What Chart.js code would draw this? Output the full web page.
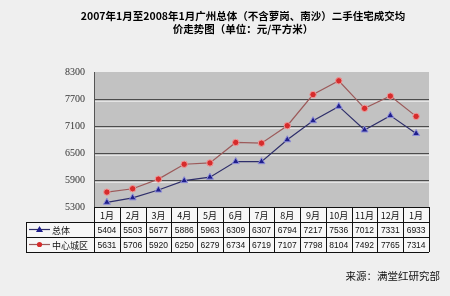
<!DOCTYPE html>
<html>
<head>
<meta charset="utf-8">
<title>广州二手住宅成交均价走势</title>
<script src="https://cdn.jsdelivr.net/npm/chart.js"></script>
<style>
  body { margin: 0; background: #efefef; }
  #wrap { width: 450px; height: 296px; position: relative; }
</style>
</head>
<body>
<div id="wrap"><canvas id="myCanvas"></canvas></div>
<script>
// data
var months = ['1月','2月','3月','4月','5月','6月','7月','8月','9月','10月','11月','12月','1月'];
var total = [5404, 5503, 5677, 5886, 5963, 6309, 6307, 6794, 7217, 7536, 7012, 7331, 6933];
var center = [5631, 5706, 5920, 6250, 6279, 6734, 6719, 7107, 7798, 8104, 7492, 7765, 7314];
var yTicks = [5300, 5900, 6500, 7100, 7700, 8300];
var seriesNames = ['总体', '中心城区'];
var titleLines = ['2007年1月至2008年1月广州总体（不含萝岗、南沙）二手住宅成交均', '价走势图（单位：元/平方米）'];
var sourceText = '来源：满堂红研究部';

var cjk = '"Noto Sans CJK SC", sans-serif';

// background, plot fill and grid highlight lines
var backPlugin = {
  id: 'back',
  beforeDraw: function(chart) {
    var c = chart.ctx, a = chart.chartArea;
    c.save();
    c.fillStyle = '#efefef';
    c.fillRect(0, 0, chart.width, chart.height);
    c.fillStyle = '#c2c2c2';
    c.fillRect(a.left, a.top, a.right - a.left, a.bottom - a.top);
    c.restore();
  },
  beforeDatasetsDraw: function(chart) {
    var c = chart.ctx, a = chart.chartArea, y = chart.scales.y;
    c.save();
    c.strokeStyle = '#e4e4e4';
    c.lineWidth = 1;
    yTicks.slice(1, -1).forEach(function(v) {
      var py = Math.round(y.getPixelForValue(v)) + 2.5;
      c.beginPath();
      c.moveTo(a.left + 1, py);
      c.lineTo(a.right, py);
      c.stroke();
    });
    c.restore();
  }
};

// title, data table with legend keys, source note
var tablePlugin = {
  id: 'table',
  afterDraw: function(chart) {
    var c = chart.ctx, x = chart.scales.x, a = chart.chartArea;
    var colW = (a.right - a.left) / months.length;
    var rowTop = [a.bottom, 222, 237, 252];
    var legendLeft = 26;
    c.save();

    c.fillStyle = '#000';
    c.textAlign = 'center';
    c.textBaseline = 'middle';
    c.font = 'bold 10.5px ' + cjk;
    c.fillText(titleLines[0], 243, 16);
    c.fillText(titleLines[1], 243, 29);

    // cells
    c.fillStyle = '#f7f7f7';
    c.fillRect(a.left, rowTop[0], a.right - a.left, rowTop[1] - rowTop[0]);
    c.fillRect(legendLeft, rowTop[1], a.right - legendLeft, rowTop[3] - rowTop[1]);

    c.strokeStyle = '#111';
    c.lineWidth = 1;
    c.beginPath();
    c.moveTo(a.left, rowTop[0] + 0.5); c.lineTo(a.right, rowTop[0] + 0.5);
    for (var r = 1; r < 4; r++) {
      c.moveTo(legendLeft, rowTop[r] + 0.5); c.lineTo(a.right, rowTop[r] + 0.5);
    }
    c.moveTo(legendLeft + 0.5, rowTop[1]); c.lineTo(legendLeft + 0.5, rowTop[3]);
    for (var i = 0; i <= months.length; i++) {
      var px = Math.round(a.left + i * colW) + 0.5;
      c.moveTo(px, rowTop[0]); c.lineTo(px, rowTop[3]);
    }
    c.stroke();

    // months
    c.fillStyle = '#111';
    c.font = '9px ' + cjk;
    months.forEach(function(m, i) {
      c.fillText(m, x.getPixelForValue(i), (rowTop[0] + rowTop[1]) / 2 + 1);
    });

    // values
    c.font = '8.5px "Liberation Sans"';
    [total, center].forEach(function(arr, r) {
      var cy = (rowTop[r + 1] + rowTop[r + 2]) / 2 + 1;
      arr.forEach(function(v, i) {
        c.fillText(String(v), x.getPixelForValue(i), cy);
      });
    });

    // legend keys
    chart.data.datasets.forEach(function(ds, r) {
      var cy = (rowTop[r + 1] + rowTop[r + 2]) / 2;
      c.strokeStyle = ds.borderColor;
      c.lineWidth = 1.2;
      c.beginPath();
      c.moveTo(29, cy); c.lineTo(50, cy);
      c.stroke();
      c.fillStyle = ds.pointBackgroundColor;
      c.beginPath();
      if (r === 0) {
        c.moveTo(39.5, cy - 3.5); c.lineTo(43, cy + 2.5); c.lineTo(36, cy + 2.5); c.closePath();
      } else {
        c.arc(39.5, cy, 2.6, 0, Math.PI * 2);
      }
      c.fill();
      c.fillStyle = '#111';
      c.textAlign = 'left';
      c.font = '9px ' + cjk;
      c.fillText(seriesNames[r], 52, cy + 1);
    });

    c.textAlign = 'right';
    c.font = '10.5px ' + cjk;
    c.fillStyle = '#111';
    c.fillText(sourceText, 440, 276);
    c.restore();
  }
};

new Chart(document.getElementById('myCanvas'), {
  type: 'line',
  data: {
    labels: months,
    datasets: [
      {
        label: seriesNames[0],
        data: total,
        borderColor: '#2e2e6a',
        borderWidth: 1.2,
        pointStyle: 'triangle',
        pointRadius: 4,
        pointBackgroundColor: '#1f1f8c',
        pointBorderColor: '#8c8cd8',
        pointBorderWidth: 1,
        tension: 0
      },
      {
        label: seriesNames[1],
        data: center,
        borderColor: '#9c5a5a',
        borderWidth: 1.2,
        pointStyle: 'circle',
        pointRadius: 3.2,
        pointBackgroundColor: '#d62c2c',
        pointBorderColor: '#f09a9a',
        pointBorderWidth: 1,
        tension: 0
      }
    ]
  },
  options: {
    responsive: true,
    maintainAspectRatio: false,
    animation: false,
    layout: { padding: { top: 72, bottom: 89, right: 21, left: 0 } },
    plugins: {
      legend: { display: false },
      title: { display: false },
      tooltip: { enabled: false }
    },
    scales: {
      x: {
        display: false,
        offset: true
      },
      y: {
        min: 5300,
        max: 8300,
        afterBuildTicks: function(scale) {
          scale.ticks = yTicks.map(function(v) { return { value: v }; });
        },
        afterFit: function(scale) { scale.width = 94; },
        grid: {
          drawTicks: false,
          color: function(ctx) {
            var v = ctx.tick && ctx.tick.value;
            return (v === 8300 || v === 5300) ? 'rgba(0,0,0,0)' : '#4c4c4c';
          }
        },
        border: { display: true, color: '#555' },
        ticks: {
          padding: 9,
          color: '#333',
          font: { family: 'Liberation Serif', size: 10 },
          callback: function(v) { return String(v); }
        }
      }
    }
  },
  plugins: [backPlugin, tablePlugin]
});
</script>
</body>
</html>
